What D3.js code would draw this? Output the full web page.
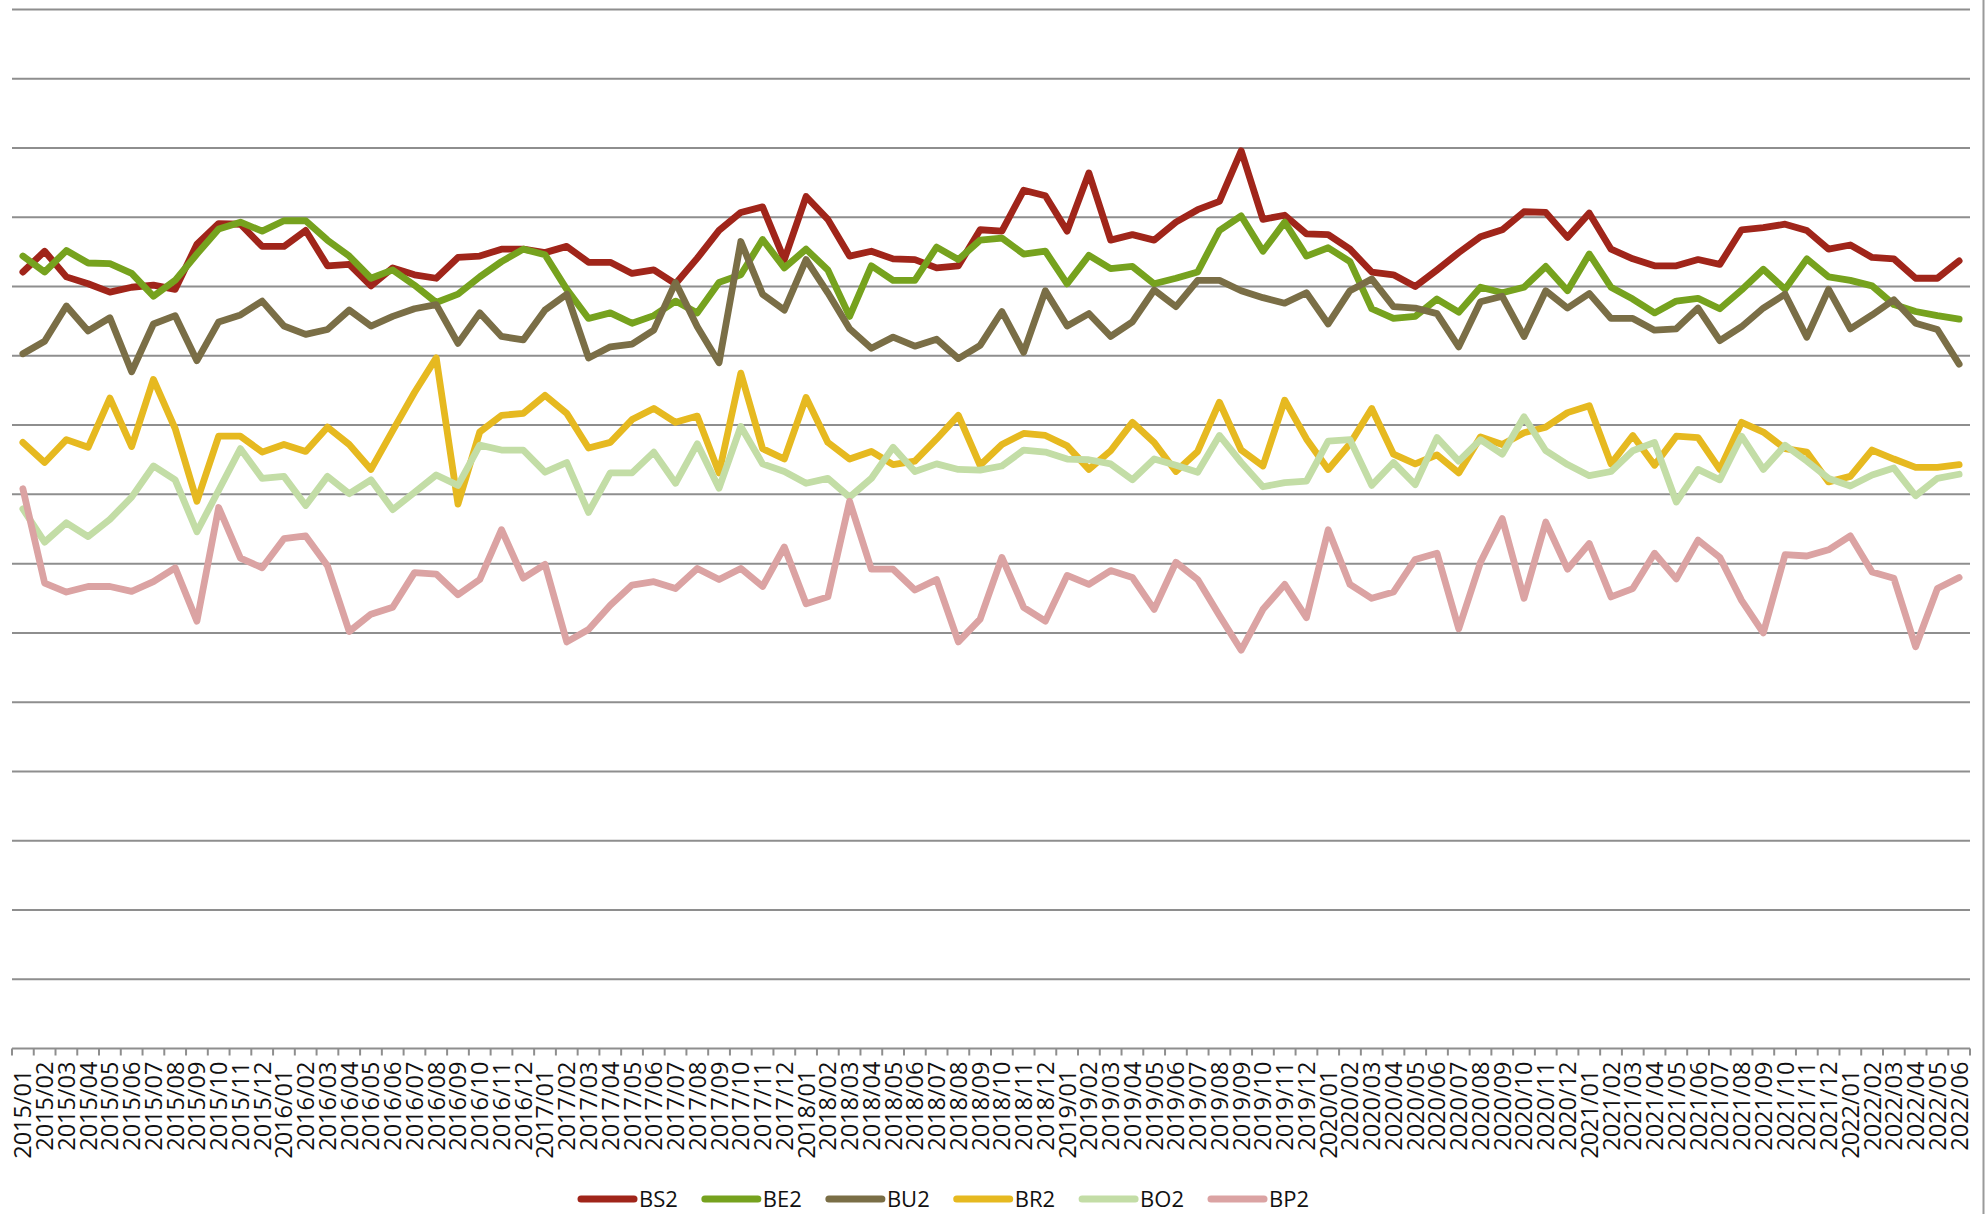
<!DOCTYPE html>
<html>
<head>
<meta charset="utf-8">
<script src="https://cdn.jsdelivr.net/npm/d3@7"></script>
<style>
  html, body { margin: 0; padding: 0; background: #fff; }
  svg { display: block; }
  text { font-family: "Open Sans", "Noto Sans", sans-serif; }
</style>
</head>
<body>
<svg id="chart" width="1987" height="1214"></svg>
<script>
// ---- data (in gridline units) ----
const months = [];
for (let y = 2015; y <= 2022; y++) {
  for (let m = 1; m <= 12; m++) {
    if (y === 2022 && m > 6) break;
    months.push(y + "/" + String(m).padStart(2, "0"));
  }
}
const seriesNames = ["BS2", "BE2", "BU2", "BR2", "BO2", "BP2"];
const seriesColors = ["#A0251A", "#76A21E", "#7A6E46", "#E6B920", "#C3DDA6", "#DBA3A3"];
const yTicks = [0, 1, 2, 3, 4, 5, 6, 7, 8, 9, 10, 11, 12, 13, 14, 15];

const BS2 = [11.21, 11.51, 11.14, 11.04, 10.92, 10.99, 11.02, 10.96, 11.61, 11.91,
  11.90, 11.58, 11.58, 11.81, 11.30, 11.32, 11.01, 11.27, 11.17, 11.12,
  11.42, 11.44, 11.54, 11.54, 11.49, 11.58, 11.35, 11.35, 11.19, 11.24,
  11.04, 11.41, 11.81, 12.07, 12.15, 11.39, 12.30, 11.97, 11.44, 11.51,
  11.40, 11.39, 11.27, 11.30, 11.82, 11.80, 12.39, 12.31, 11.80, 12.64,
  11.67, 11.75, 11.67, 11.93, 12.11, 12.23, 12.96, 11.97, 12.03, 11.76,
  11.75, 11.54, 11.21, 11.17, 11.00, 11.24, 11.49, 11.72, 11.82, 12.08,
  12.07, 11.71, 12.06, 11.54, 11.40, 11.30, 11.30, 11.39, 11.32, 11.82,
  11.85, 11.90, 11.81, 11.54, 11.60, 11.42, 11.40, 11.12, 11.12, 11.37];
const BE2 = [11.44, 11.21, 11.52, 11.34, 11.33, 11.19, 10.86, 11.09, 11.47, 11.83,
  11.93, 11.80, 11.95, 11.95, 11.67, 11.44, 11.12, 11.24, 11.02, 10.77,
  10.89, 11.14, 11.36, 11.54, 11.46, 10.96, 10.54, 10.62, 10.47, 10.58,
  10.79, 10.62, 11.06, 11.17, 11.68, 11.27, 11.54, 11.24, 10.57, 11.30,
  11.09, 11.09, 11.57, 11.39, 11.67, 11.70, 11.47, 11.51, 11.04, 11.45,
  11.26, 11.29, 11.04, 11.12, 11.21, 11.81, 12.02, 11.51, 11.93, 11.44,
  11.56, 11.36, 10.68, 10.54, 10.57, 10.82, 10.63, 10.99, 10.91, 10.99,
  11.29, 10.94, 11.47, 10.99, 10.82, 10.62, 10.79, 10.83, 10.68, 10.95,
  11.25, 10.96, 11.40, 11.14, 11.09, 11.01, 10.74, 10.64, 10.58, 10.53];
const BU2 = [10.03, 10.21, 10.72, 10.36, 10.55, 9.77, 10.46, 10.58, 9.93, 10.49,
  10.59, 10.79, 10.43, 10.31, 10.38, 10.66, 10.43, 10.57, 10.68, 10.74,
  10.18, 10.62, 10.28, 10.23, 10.66, 10.89, 9.97, 10.13, 10.17, 10.37,
  11.06, 10.42, 9.90, 11.65, 10.89, 10.66, 11.39, 10.91, 10.39, 10.11,
  10.27, 10.14, 10.24, 9.96, 10.15, 10.64, 10.05, 10.94, 10.43, 10.61,
  10.28, 10.49, 10.95, 10.71, 11.09, 11.09, 10.94, 10.84, 10.76, 10.91,
  10.46, 10.94, 11.11, 10.71, 10.69, 10.61, 10.13, 10.78, 10.86, 10.28,
  10.94, 10.69, 10.90, 10.54, 10.54, 10.37, 10.39, 10.69, 10.22, 10.42,
  10.69, 10.89, 10.27, 10.96, 10.39, 10.59, 10.81, 10.47, 10.38, 9.88];
const BR2 = [8.75, 8.46, 8.79, 8.68, 9.39, 8.69, 9.66, 8.95, 7.90, 8.84,
  8.84, 8.61, 8.72, 8.62, 8.97, 8.72, 8.36, 8.92, 9.47, 9.97,
  7.86, 8.90, 9.14, 9.17, 9.43, 9.17, 8.67, 8.75, 9.08, 9.24,
  9.04, 9.13, 8.31, 9.75, 8.66, 8.51, 9.40, 8.75, 8.51, 8.62,
  8.43, 8.48, 8.80, 9.14, 8.42, 8.72, 8.88, 8.85, 8.70, 8.36,
  8.63, 9.04, 8.75, 8.33, 8.62, 9.33, 8.64, 8.41, 9.36, 8.80,
  8.36, 8.73, 9.24, 8.58, 8.44, 8.57, 8.31, 8.83, 8.72, 8.89,
  8.97, 9.18, 9.28, 8.44, 8.85, 8.42, 8.84, 8.82, 8.36, 9.04,
  8.90, 8.66, 8.61, 8.18, 8.26, 8.64, 8.51, 8.39, 8.39, 8.43];
const BO2 = [7.79, 7.31, 7.59, 7.39, 7.64, 7.96, 8.41, 8.21, 7.46, 8.06,
  8.66, 8.23, 8.26, 7.84, 8.26, 8.01, 8.21, 7.78, 8.03, 8.28,
  8.13, 8.71, 8.64, 8.64, 8.32, 8.46, 7.74, 8.31, 8.31, 8.61,
  8.16, 8.73, 8.09, 8.98, 8.44, 8.33, 8.16, 8.23, 7.96, 8.23,
  8.68, 8.33, 8.44, 8.36, 8.35, 8.41, 8.64, 8.61, 8.51, 8.50,
  8.44, 8.21, 8.51, 8.42, 8.32, 8.85, 8.46, 8.11, 8.17, 8.19,
  8.77, 8.79, 8.13, 8.46, 8.14, 8.82, 8.48, 8.79, 8.58, 9.12,
  8.63, 8.43, 8.27, 8.33, 8.63, 8.75, 7.89, 8.36, 8.21, 8.84,
  8.36, 8.71, 8.48, 8.23, 8.12, 8.28, 8.38, 7.98, 8.23, 8.29];
const BP2 = [8.08, 6.72, 6.59, 6.67, 6.67, 6.60, 6.74, 6.94, 6.17, 7.81,
  7.08, 6.94, 7.36, 7.40, 6.97, 6.02, 6.27, 6.37, 6.87, 6.85,
  6.55, 6.77, 7.49, 6.79, 6.99, 5.87, 6.05, 6.40, 6.69, 6.74,
  6.64, 6.93, 6.77, 6.93, 6.67, 7.24, 6.42, 6.52, 7.90, 6.92,
  6.92, 6.62, 6.77, 5.87, 6.20, 7.09, 6.37, 6.17, 6.83, 6.70,
  6.90, 6.80, 6.34, 7.02, 6.77, 6.25, 5.75, 6.34, 6.70, 6.22,
  7.49, 6.70, 6.50, 6.59, 7.06, 7.15, 6.06, 7.02, 7.65, 6.50,
  7.60, 6.92, 7.29, 6.52, 6.64, 7.15, 6.78, 7.34, 7.09, 6.47,
  6.00, 7.13, 7.11, 7.20, 7.40, 6.88, 6.79, 5.80, 6.64, 6.80];
const seriesValues = [BS2, BE2, BU2, BR2, BO2, BP2];

// ---- drawing ----
const svg = d3.select("#chart");
const plot = { left: 12, right: 1970, top: 9.5, bottom: 1048.5 };

const x = d3.scaleBand().domain(months).range([plot.left, plot.right]).padding(0);
const y = d3.scaleLinear().domain([0, 15]).range([plot.bottom, plot.top]);

// gridlines
svg.append("g").selectAll("line")
  .data(yTicks.filter(t => t > 0))
  .join("line")
  .attr("x1", plot.left).attr("x2", plot.right)
  .attr("y1", d => y(d)).attr("y2", d => y(d))
  .attr("stroke", "#8e8e8e").attr("stroke-width", 2);

// right border of chart
svg.append("line")
  .attr("x1", 1983.5).attr("x2", 1983.5).attr("y1", 0).attr("y2", 1214)
  .attr("stroke", "#9a9a9a").attr("stroke-width", 2);

// x axis: line + ticks at band edges
const axisG = svg.append("g");
axisG.append("line")
  .attr("x1", plot.left).attr("x2", plot.right)
  .attr("y1", y(0)).attr("y2", y(0))
  .attr("stroke", "#8e8e8e").attr("stroke-width", 2);
const edges = months.map(m => x(m)).concat([x(months[months.length - 1]) + x.bandwidth()]);
axisG.selectAll("line.tick").data(edges).join("line")
  .attr("class", "tick")
  .attr("x1", d => d).attr("x2", d => d)
  .attr("y1", y(0)).attr("y2", y(0) + 7)
  .attr("stroke", "#8e8e8e").attr("stroke-width", 2);

axisG.selectAll("text").data(months).join("text")
  .attr("transform", d => {
    const cx = x(d) + x.bandwidth() / 2;
    const yy = y(0) + 13 + (d.endsWith("/01") ? 8 : 0);
    return `translate(${cx},${yy}) rotate(-90)`;
  })
  .attr("text-anchor", "end")
  .attr("dy", "0.36em")
  .attr("font-size", 23.5)
  .attr("fill", "#111")
  .text(d => d);

// series lines
const line = d3.line()
  .x((d, i) => x(months[i]) + x.bandwidth() / 2)
  .y(d => y(d));

svg.append("g").selectAll("path")
  .data(seriesValues)
  .join("path")
  .attr("d", d => line(d))
  .attr("fill", "none")
  .attr("stroke", (d, i) => seriesColors[i])
  .attr("stroke-width", 6.8)
  .attr("stroke-linejoin", "round")
  .attr("stroke-linecap", "round");

// legend
const legend = svg.append("g");
let lx = 578;
const ly = 1199;
seriesNames.forEach((name, i) => {
  legend.append("line")
    .attr("x1", lx + 3).attr("x2", lx + 56)
    .attr("y1", ly).attr("y2", ly)
    .attr("stroke", seriesColors[i]).attr("stroke-width", 7)
    .attr("stroke-linecap", "round");
  const t = legend.append("text")
    .attr("x", lx + 61).attr("y", ly)
    .attr("dy", "0.35em")
    .attr("font-size", 22)
    .attr("fill", "#111")
    .text(name);
  lx += 61 + t.node().getComputedTextLength() + 24;
});
</script>
</body>
</html>
